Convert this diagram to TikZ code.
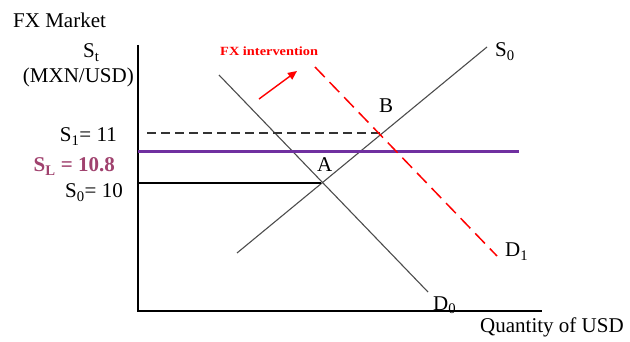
\documentclass[tikz,border=0pt]{standalone}
\usepackage{fontspec}
\setmainfont{Liberation Serif}
\usetikzlibrary{arrows.meta}
\definecolor{lineprp}{HTML}{7030A0}
\definecolor{txtprp}{HTML}{A0426E}
\definecolor{fxred}{HTML}{FF0000}
\tikzset{
  lbl/.style={inner sep=0pt, font=\fontsize{21}{25}\selectfont},
  curve/.style={draw=black!70, line width=1.1pt},
  axisline/.style={draw=black, line width=1.3pt},
}
\begin{document}
\begin{tikzpicture}[x=1pt,y=-1pt]
\useasboundingbox (0,0) rectangle (630,342);
% axes
\coordinate (ytop) at (138,45);
\coordinate (orig) at (138,311);
\coordinate (xend) at (542,311);
\draw[axisline] (ytop) -- (orig) -- (xend);
% curves
\coordinate (s0a) at (237,253);
\coordinate (s0b) at (487,47);
\coordinate (d0a) at (219,75);
\coordinate (d0b) at (428,292);
\coordinate (d1a) at (315,67);
\coordinate (d1b) at (497,256);
\coordinate (A) at (321,183);
\coordinate (B) at (382,133);
\coordinate (s1l) at (147,133);
\coordinate (s0l) at (138,183);
\coordinate (sll) at (138,152);
\coordinate (slr) at (519,152);
\draw[curve] (s0a) -- (s0b);
\draw[curve] (d0a) -- (d0b);
\draw[black, line width=1.1pt] (s0l) -- (A);
\draw[black!80, line width=1.1pt, dash pattern=on 9pt off 5pt] (s1l) -- (B);
\draw[lineprp, line width=3pt] (sll) -- (slr);
\draw[fxred, line width=1.5pt, dash pattern=on 14pt off 7pt] (d1a) -- (d1b);
% intervention arrow
\coordinate (ia) at (259,99);
\coordinate (ib) at (297,71);
\draw[fxred, line width=1.4pt, -{Triangle[length=9pt,width=8pt]}] (ia) -- (ib);
% labels
\node[lbl, anchor=base west] (fx) at (13,28) {FX Market};
\node[lbl, anchor=base west] (st) at (83,58) {S\textsubscript{t}};
\node[lbl, anchor=base east] (unit) at (134,83) {(MXN/USD)};
\node[lbl, anchor=base east] (s1) at (117,142) {S\textsubscript{1}= 11};
\node[lbl, anchor=base east, text=txtprp, font=\fontsize{21}{25}\selectfont\bfseries] (sl) at (115,172) {S\textsubscript{L} = 10.8};
\node[lbl, anchor=base east] (s0) at (123,198) {S\textsubscript{0}= 10};
\node[lbl, anchor=base west] (la) at (317,172) {A};
\node[lbl, anchor=base west] (lb) at (379,113) {B};
\node[lbl, anchor=base west] (ls0) at (495,57) {S\textsubscript{0}};
\node[lbl, anchor=base west] (ld1) at (505,257) {D\textsubscript{1}};
\node[lbl, anchor=base west] (ld0) at (433,310) {D\textsubscript{0}};
\node[lbl, anchor=base west] (qty) at (480,332) {Quantity of USD};
\node[inner sep=0pt, anchor=base west, text=fxred, xscale=1.15, font=\fontsize{12.5}{14}\selectfont\bfseries] (fxi) at (220,56) {FX intervention};
\end{tikzpicture}
\end{document}
